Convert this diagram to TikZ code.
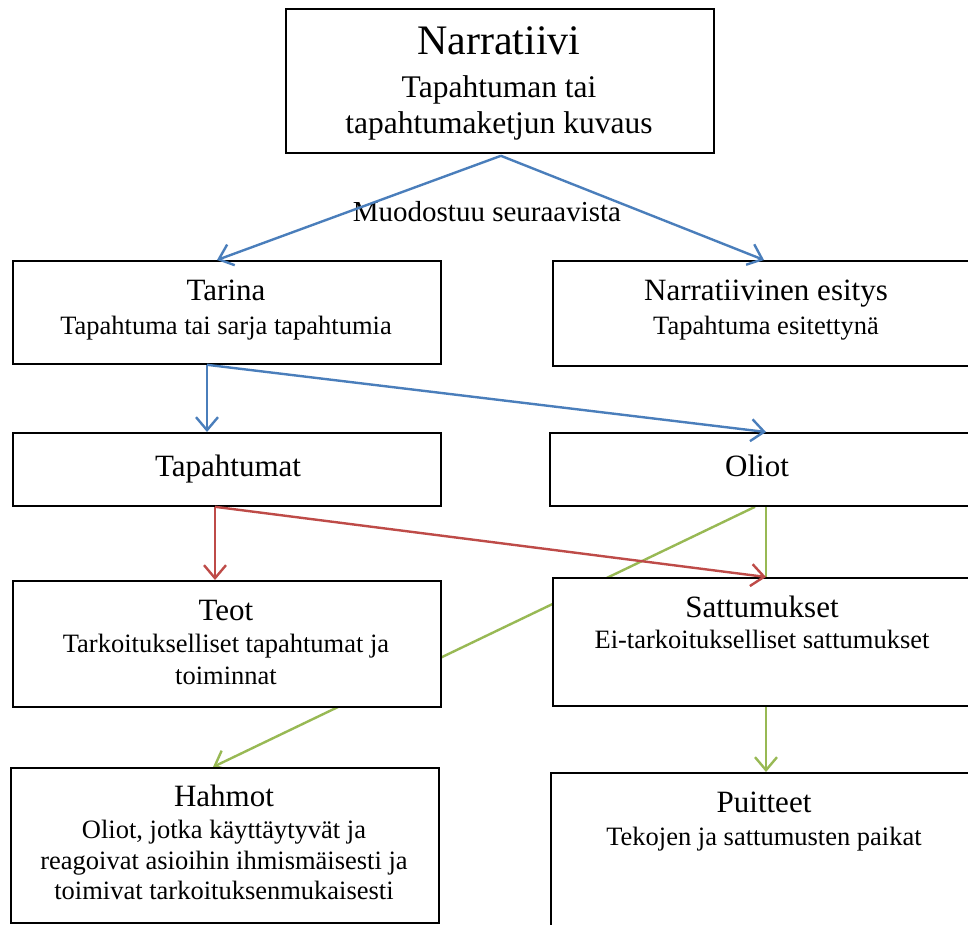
\documentclass[tikz,border=0pt]{standalone}
\usepackage{fontspec}
\setmainfont{Liberation Serif}
\usetikzlibrary{arrows.meta,calc}
\pgfdeclarelayer{background}
\pgfsetlayers{background,main}
\definecolor{cblue}{RGB}{74,126,187}
\definecolor{cred}{RGB}{190,75,72}
\definecolor{cgreen}{RGB}{152,185,84}
\begin{document}
\begin{tikzpicture}[x=1pt,y=-1pt,
  box/.style={draw=black,line width=1.8pt,fill=white,anchor=north west,inner sep=0pt},
  bigtitle/.style={anchor=base,inner sep=0pt,font=\fontsize{42}{48}\selectfont},
  bigsub/.style={anchor=base,inner sep=0pt,font=\fontsize{31.5}{36}\selectfont},
  head/.style={anchor=base,inner sep=0pt,font=\fontsize{31}{36}\selectfont},
  sub/.style={anchor=base,inner sep=0pt,font=\fontsize{26.5}{31}\selectfont},
  lbl/.style={anchor=base,inner sep=0pt,font=\fontsize{29}{34}\selectfont},
  conn/.style={line width=2.4pt,-{Straight Barb[length=13pt,width=22pt]}},
  plain/.style={line width=2.4pt}]
\useasboundingbox (0,0) rectangle (968,924);
\clip (0,0) rectangle (968,924);
\begin{pgfonlayer}{background}
  \fill[white] (0,0) rectangle (968,924);
\end{pgfonlayer}

% boxes
\node[box,minimum width=428pt,minimum height=144pt] (narr) at (285,8) {};
\node[box,minimum width=428pt,minimum height=103pt] (tarina) at (12,260) {};
\node[box,minimum width=460pt,minimum height=105pt] (esitys) at (552,260) {};
\node[box,minimum width=428pt,minimum height=73pt] (tapahtumat) at (12,432) {};
\node[box,minimum width=460pt,minimum height=73pt] (oliot) at (549,432) {};
\node[box,minimum width=428pt,minimum height=126pt] (teot) at (12,580) {};
\node[box,minimum width=460pt,minimum height=128pt] (sattum) at (552,577) {};
\node[box,minimum width=428pt,minimum height=155pt] (hahmot) at (10,767) {};
\node[box,minimum width=460pt,minimum height=200pt] (puitteet) at (550,772) {};

% texts
\node[bigtitle] (t1) at (499,54) {Narratiivi};
\node[bigsub] (t2) at (499,97) {Tapahtuman tai};
\node[bigsub] (t3) at (499,133) {tapahtumaketjun kuvaus};

\node[lbl] (muod) at (487,221) {Muodostuu seuraavista};

\node[head] (t4) at (226,300) {Tarina};
\node[sub] (t5) at (226,334) {Tapahtuma tai sarja tapahtumia};

\node[head] (t6) at (766,300) {Narratiivinen esitys};
\node[sub] (t7) at (766,334) {Tapahtuma esitettynä};

\node[head] (t8) at (228,476) {Tapahtumat};
\node[head] (t9) at (757,476) {Oliot};

\node[head] (t10) at (226,620) {Teot};
\node[sub] (t11) at (226,652) {Tarkoitukselliset tapahtumat ja};
\node[sub] (t12) at (226,684) {toiminnat};

\node[head] (t13) at (762,617) {Sattumukset};
\node[sub] (t14) at (762,648) {Ei-tarkoitukselliset sattumukset};

\node[head] (t15) at (224,806) {Hahmot};
\node[sub] (t16) at (224,838) {Oliot, jotka käyttäytyvät ja};
\node[sub] (t17) at (224,869) {reagoivat asioihin ihmismäisesti ja};
\node[sub] (t18) at (224,899) {toimivat tarkoituksenmukaisesti};

\node[head] (t19) at (764,812) {Puitteet};
\node[sub] (t20) at (764,845) {Tekojen ja sattumusten paikat};

% connectors
\begin{pgfonlayer}{background}
  \draw[conn,cgreen] ($(oliot.south west)+(206,0)$) -- ($(hahmot.north west)+(203,0)$);
\end{pgfonlayer}

\draw[conn,cblue] ($(narr.south)+(1,2)$) -- ($(tarina.north west)+(205,0)$);
\draw[conn,cblue] ($(narr.south)+(1,2)$) -- ($(esitys.north west)+(212,0)$);

\draw[conn,cblue] ($(tarina.south west)+(195,0)$) -- ($(tapahtumat.north west)+(195,0)$);
\draw[conn,cblue] ($(tarina.south west)+(195,0)$) -- ($(oliot.north west)+(217,0)$);

\draw[plain,cgreen] ($(oliot.south west)+(217,0)$) -- ($(sattum.north west)+(214,0)$);
\draw[conn,cgreen] ($(sattum.south west)+(214,0)$) -- ($(puitteet.north west)+(216,0)$);

\draw[conn,cred] ($(tapahtumat.south west)+(203,0)$) -- ($(teot.north west)+(203,0)$);
\draw[conn,cred] ($(tapahtumat.south west)+(203,0)$) -- ($(sattum.north west)+(214,0)$);
\end{tikzpicture}
\end{document}
